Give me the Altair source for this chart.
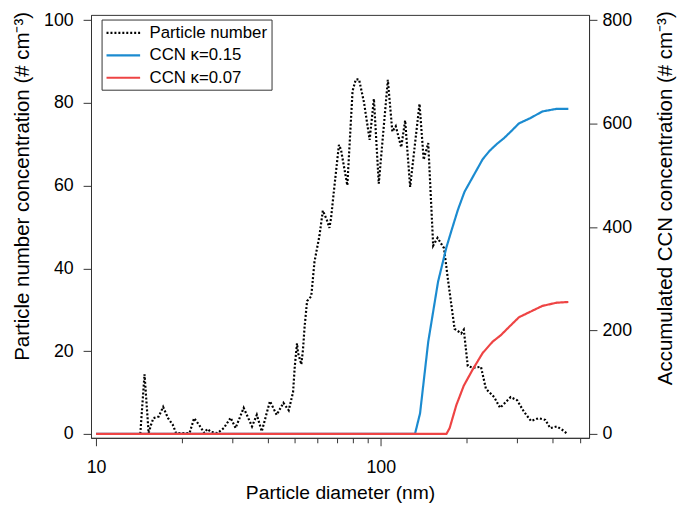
import altair as alt
import pandas as pd

# Particle number size distribution (# cm-3) vs diameter (nm)
pn_d = [14.3, 14.8, 15.3, 15.6, 15.9, 16.6, 17.2, 17.9, 18.6, 19.1,
        21.3, 22.1, 23.0, 24.0, 24.6, 25.3, 26.7, 28.1, 29.7, 30.9,
        33.0, 35.3, 36.7, 38.2, 40.8, 43.1, 45.5, 47.5, 49.2, 49.9,
        50.8, 51.2, 52.6, 53.3, 54.0, 55.1, 57.0, 58.5, 60.9, 62.6,
        64.6, 66.0, 66.9, 68.7, 71.3, 72.5, 76.3, 79.6, 81.7, 83.9,
        87.3, 91.4, 94.6, 98.4, 105.9, 109.8, 112.9, 118.0, 121.8, 126.8,
        136.8, 141.5, 146.8, 152.8, 158.3, 166.8, 172.2, 181.7, 191.7, 195.7,
        202.1, 210.4, 224.9, 234.1, 250.2, 262.5, 286.0, 301.5, 318.1, 337.2,
        358.5, 378.3, 393.7, 415.1, 437.9, 452.2]
pn_v = [0, 14.4, 0.2, 2.2, 3.8, 4.2, 6.5, 3.8, 2.2, 0.2,
        0.2, 3.8, 2.2, 0.2, 1.2, 0.5, 0.2, 1.4, 3.9, 1.4,
        6.3, 1.8, 4.6, 0.6, 7.9, 4.6, 7.5, 5.7, 10.1, 16.4,
        21.9, 19.6, 16.8, 20.3, 25.8, 32.1, 33.3, 41.6, 47.9, 54.0,
        51.8, 49.8, 52.2, 59.7, 69.9, 68.7, 60.1, 82.9, 85.7, 85.7,
        80.2, 71.1, 81.0, 60.5, 85.6, 73.1, 74.4, 69.3, 75.8, 59.7,
        79.8, 66.3, 70.3, 45.5, 47.4, 44.9, 37.3, 25.4, 24.3, 25.2,
        16.4, 16.0, 16.2, 10.9, 8.9, 6.3, 8.9, 8.1, 5.4, 3.1,
        3.8, 3.4, 1.4, 1.8, 0.8, 0]

# Accumulated CCN, kappa = 0.15
b_d = [10, 131.9, 137.4, 146.8, 159.0, 170.1, 177.0, 186.6, 196.8, 213.3,
       227.9, 240.4, 255.6, 271.0, 286.0, 305.6, 335.6, 369.6, 415.1, 455.9]
b_v = [0, 0, 39.7, 178.2, 294.8, 361.0, 392.6, 433.4, 468.2, 502.7,
       531.1, 546.8, 560.8, 572.1, 584.6, 600.5, 611.0, 623.7, 628.8, 628.8]

# Accumulated CCN, kappa = 0.07
r_d = [10, 170.1, 174.6, 184.2, 195.7, 210.4, 227.9, 246.9, 264.0, 282.0,
       305.6, 331.1, 369.6, 415.1, 455.9]
r_v = [0, 0, 11.3, 55.4, 93.2, 124.7, 156.3, 178.2, 190.9, 206.6,
       225.5, 234.9, 247.6, 253.8, 255.1]

SERIES = ["Particle number", "CCN κ=0.15", "CCN κ=0.07"]
COLORS = ["#000000", "#1b8bd0", "#ee4444"]
DASHES = [[2, 2], [1, 0], [1, 0]]

x_ticks = [10, 20, 30, 40, 50, 60, 70, 80, 90, 100, 200, 300, 400, 500]
left_ticks = [0, 20, 40, 60, 80, 100]
right_ticks = [0, 200, 400, 600, 800]

df = pd.concat([
    pd.DataFrame({"d": pn_d, "v": pn_v, "series": SERIES[0]}),
    pd.DataFrame({"d": b_d, "v": b_v, "series": SERIES[1]}),
    pd.DataFrame({"d": r_d, "v": r_v, "series": SERIES[2]}),
], ignore_index=True)

FONT = "Liberation Sans"
major = "datum.value == 10 || datum.value == 100"

xenc = alt.X(
    "d:Q",
    scale=alt.Scale(type="log", domain=[9.6, 539], nice=False),
    axis=alt.Axis(
        values=x_ticks, format="d",
        labelExpr=f"({major}) ? datum.label : ''",
        tickSize={"condition": {"test": major, "value": 8}, "value": 5},
        labelPadding=13, labelFlush=False, labelOverlap=False,
        title="Particle diameter (nm)", titleY=61, titleBaseline="alphabetic",
        titleFontSize=19.5, grid=False,
    ),
)

leg = alt.Legend(
    title=None, orient="none", legendX=10.7, legendY=4.7,
    symbolType="M-1,0H3", symbolSize=289, symbolStrokeWidth=2.2,
    labelFontSize=17, labelFont=FONT, labelColor="black", labelOffset=25,
    labelExpr="datum.label + '\u00a0\u00a0\u00a0'",
    padding=3.5, rowPadding=4.7, strokeColor="#333333", fillColor="white",
)
color = alt.Color("series:N", scale=alt.Scale(domain=SERIES, range=COLORS), legend=leg)
dash = alt.StrokeDash("series:N", scale=alt.Scale(domain=SERIES, range=DASHES), legend=leg)

yleft = alt.Y(
    "v:Q",
    scale=alt.Scale(domain=[-0.956, 101.31], nice=False, zero=False),
    axis=alt.Axis(
        values=left_ticks, tickSize=8, labelPadding=10, grid=False,
        title="Particle number concentration (# cm⁻³)", titleFontSize=20.7,
        titleX=-63, titleY=173, titleAngle=270, titleBaseline="alphabetic",
    ),
)
yright = alt.Y(
    "v:Q",
    scale=alt.Scale(domain=[-7.65, 810.5], nice=False, zero=False),
    axis=alt.Axis(
        orient="right", values=right_ticks, tickSize=8, labelPadding=5, grid=False,
        title="Accumulated CCN concentration (# cm⁻³)", titleFontSize=20.7,
        titleX=83, titleY=185, titleAngle=270, titleBaseline="alphabetic",
    ),
)

base = alt.Chart(df)
pn = base.transform_filter(alt.datum.series == SERIES[0]).mark_line(strokeWidth=2.2).encode(
    x=xenc, y=yleft, color=color, strokeDash=dash)
blue = base.transform_filter(alt.datum.series == SERIES[1]).mark_line(strokeWidth=2.2).encode(
    x=xenc, y=yright, color=color, strokeDash=dash)
red = base.transform_filter(alt.datum.series == SERIES[2]).mark_line(strokeWidth=2.2).encode(
    x=xenc, y=yright, color=color, strokeDash=dash)

ccn = alt.layer(blue, red)

chart = (
    alt.layer(pn, ccn)
    .resolve_scale(y="independent")
    .properties(
        width=504, height=428,
        autosize=alt.AutoSizeParams(type="none"),
        padding={"left": 84, "top": 4, "right": 89, "bottom": 66},
    )
    .configure_view(stroke="#333333", strokeWidth=1)
    .configure_axis(
        labelFont=FONT, labelFontSize=18, labelColor="black",
        titleFont=FONT, titleFontSize=19.5, titleFontWeight="normal", titleColor="black",
        domainColor="#333333", tickColor="#333333", domainWidth=1, tickWidth=1,
    )
)

chart.save("out.html", embed_options={"renderer": "svg", "actions": False})
